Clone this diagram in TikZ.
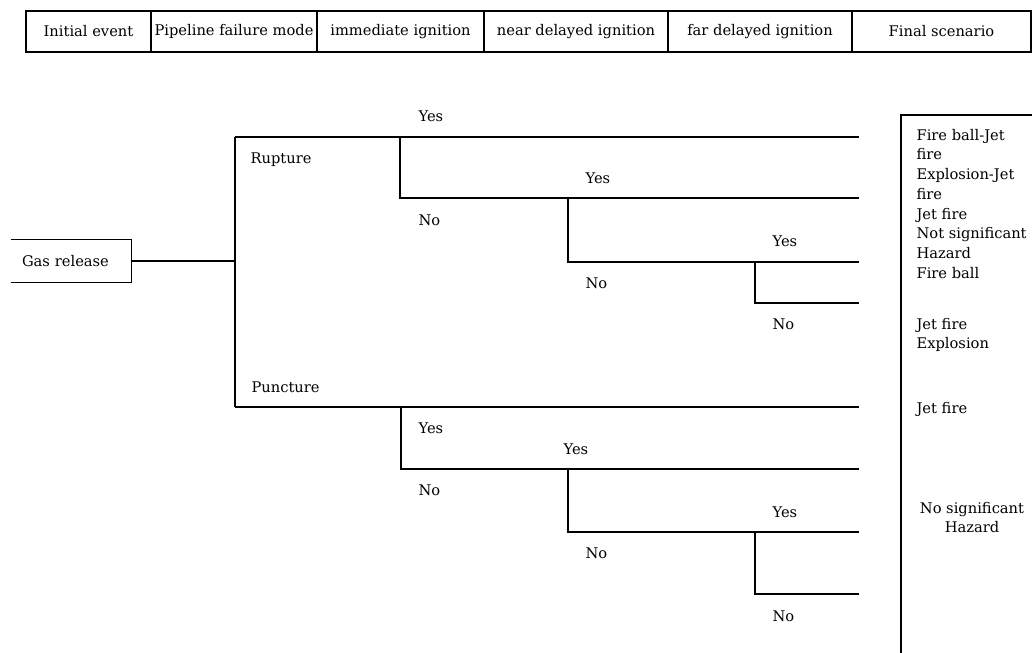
\documentclass[tikz,border=0pt]{standalone}
\usepackage{fontspec}
\setmainfont{DejaVu Serif}
\begin{document}
\begin{tikzpicture}[x=0.75pt,y=-0.75pt,line width=0.9pt,
  txt/.style={font=\fontsize{11}{14.8}\selectfont},
  lbl/.style={txt,anchor=base west,inner sep=0pt},
  hcell/.style={txt,draw,inner sep=0pt,minimum height=30.75pt},
  gasbox/.style={txt,inner xsep=7.5pt,text width=74.25pt,align=left,minimum height=31.5pt},
  outlist/.style={txt,anchor=north west,inner sep=0pt,align=left}]
\useasboundingbox (0,0) rectangle (1032,653);

% header table
\node[hcell,minimum width=93.75pt] (h1) at (88.5,31.5) {Initial event};
\node[hcell,minimum width=124.5pt] (h2) at (234,31.5) {Pipeline failure mode};
\node[hcell,minimum width=125.25pt] (h3) at (400.5,31.5) {immediate ignition};
\node[hcell,minimum width=138pt] (h4) at (576,31.5) {near delayed ignition};
\node[hcell,minimum width=138pt] (h5) at (760,31.5) {far delayed ignition};
\node[hcell,minimum width=134.25pt] (h6) at (941.5,31.5) {Final scenario};

% initial event box (left side open)
\node[gasbox] (gas) at (71.5,261) {Gas release};
\draw (gas.north west) -- (gas.north east) -- (gas.south east) -- (gas.south west);

% branch points
\coordinate (J0) at (235,261);
\coordinate (R0) at (235,137);
\coordinate (P0) at (235,407);
\coordinate (R1) at (400,137);  \coordinate (R1n) at (400,198);
\coordinate (R2) at (568,198);  \coordinate (R2n) at (568,262);
\coordinate (R3) at (755,262);  \coordinate (R3n) at (755,303);
\coordinate (P1) at (401,407);  \coordinate (P1n) at (401,469);
\coordinate (P2) at (568,469);  \coordinate (P2n) at (568,532);
\coordinate (P3) at (755,532);  \coordinate (P3n) at (755,594);
\coordinate (E1) at (859,137);  \coordinate (E2) at (859,198);
\coordinate (E3) at (859,262);  \coordinate (E4) at (859,303);
\coordinate (F1) at (859,407);  \coordinate (F2) at (859,469);
\coordinate (F3) at (859,532);  \coordinate (F4) at (859,594);

% tree connectors
\draw (gas.east) -- (J0);
\draw (R0) -- (P0);
\draw (R0) -- (E1);
\draw (R1) -- (R1n) -- (E2);
\draw (R2) -- (R2n) -- (E3);
\draw (R3) -- (R3n) -- (E4);
\draw (P0) -- (F1);
\draw (P1) -- (P1n) -- (F2);
\draw (P2) -- (P2n) -- (F3);
\draw (P3) -- (P3n) -- (F4);

% branch labels
\node[lbl] (rup) at (250,163) {Rupture};
\node[lbl] (punc) at (251,392) {Puncture};
\node[lbl] (y1) at (418,121) {Yes};
\node[lbl] (n1) at (418,225) {No};
\node[lbl] (y2) at (585,183) {Yes};
\node[lbl] (n2) at (585,288) {No};
\node[lbl] (y3) at (772,246) {Yes};
\node[lbl] (n3) at (772,329) {No};
\node[lbl] (y4) at (418,433) {Yes};
\node[lbl] (y5) at (563,454) {Yes};
\node[lbl] (n4) at (418,495) {No};
\node[lbl] (y6) at (772,517) {Yes};
\node[lbl] (n5) at (585,558) {No};
\node[lbl] (n6) at (772,621) {No};

% final scenario column
\coordinate (fsTR) at (1032,115);
\coordinate (fsTL) at (901,115);
\coordinate (fsBL) at (901,653);
\draw (fsTR) -- (fsTL) -- (fsBL);
\node[outlist] (o1) at (916,128.5) {Fire ball-Jet\\fire\\Explosion-Jet\\fire\\Jet fire\\Not significant\\Hazard\\Fire ball};
\node[outlist] (o2) at (916,317.5) {Jet fire\\Explosion};
\node[outlist] (o3) at (916,401.5) {Jet fire};
\node[outlist,anchor=north,align=center] (o4) at (972,501.5) {No significant\\Hazard};
\end{tikzpicture}
\end{document}
